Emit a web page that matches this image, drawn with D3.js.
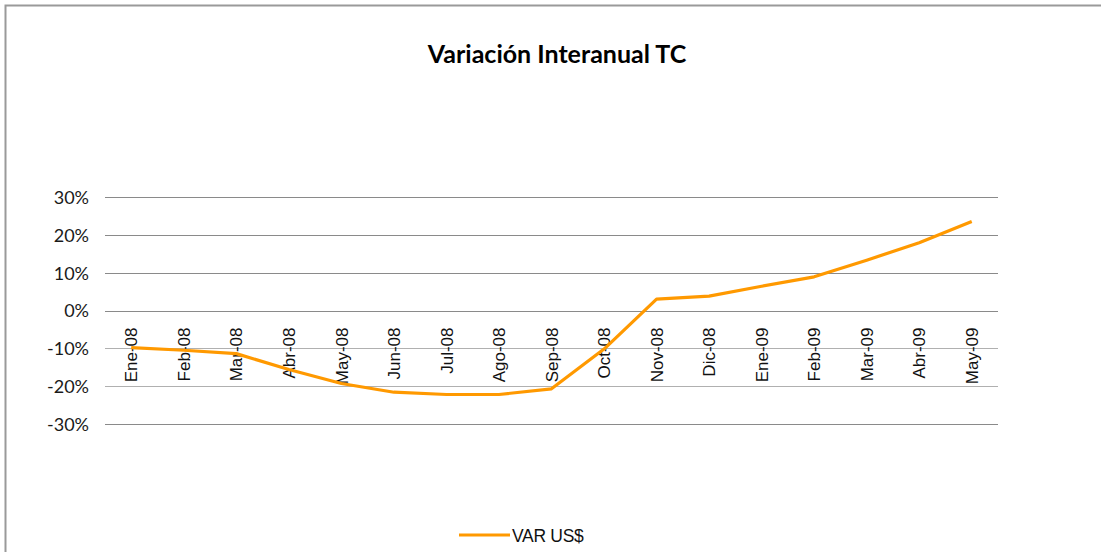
<!DOCTYPE html>
<html>
<head>
<meta charset="utf-8">
<script src="https://cdn.jsdelivr.net/npm/d3@7"></script>
<style>
  html, body { margin: 0; padding: 0; background: #fff; }
  svg { display: block; }
</style>
</head>
<body>
<svg id="chart" width="1101" height="552"></svg>
<script>
const title = "Variación Interanual TC";
const categories = ["Ene-08","Feb-08","Mar-08","Abr-08","May-08","Jun-08","Jul-08","Ago-08","Sep-08","Oct-08","Nov-08","Dic-08","Ene-09","Feb-09","Mar-09","Abr-09","May-09"];
const seriesName = "VAR US$";
const values = [-0.098, -0.105, -0.114, -0.156, -0.193, -0.216, -0.222, -0.222, -0.207, -0.102, 0.030, 0.038, 0.064, 0.089, 0.133, 0.179, 0.235];
const yTicks = [-0.3, -0.2, -0.1, 0, 0.1, 0.2, 0.3];

const svg = d3.select("#chart");
const W = 1101, H = 552;
const plot = {left: 105, right: 998, top: 197, bottom: 424};

// outer border
svg.append("rect")
  .attr("x", 5.5).attr("y", 5.5)
  .attr("width", W + 10).attr("height", H + 10)
  .attr("fill", "none").attr("stroke", "#9a9a9a").attr("stroke-width", 2);

const x = d3.scaleBand().domain(categories).range([plot.left, plot.right]).paddingInner(0).paddingOuter(0);
const y = d3.scaleLinear().domain([-0.3, 0.3]).range([plot.bottom, plot.top]);

// gridlines
svg.append("g").selectAll("line").data(yTicks).join("line")
  .attr("x1", plot.left).attr("x2", plot.right)
  .attr("y1", d => Math.round(y(d)) + 0.5).attr("y2", d => Math.round(y(d)) + 0.5)
  .attr("stroke", d => (d < 0 && d > -0.25) ? "#b0b0b0" : "#8a8a8a")
  .attr("stroke-width", 1);

// y axis labels
const yAxis = d3.axisLeft(y).tickValues(yTicks).tickFormat(d3.format(".0%")).tickSize(0).tickPadding(0);
const gy = svg.append("g").attr("transform", `translate(${plot.left - 16},0)`).call(yAxis);
gy.select(".domain").remove();
gy.selectAll("text")
  .text(d => d3.format(".0%")(d).replace("−", "-"))
  .attr("font-family", "Lato, 'Open Sans', sans-serif")
  .attr("font-size", 18).attr("fill", "#1a1a1a").attr("dy", "0.36em");

// x axis labels (at 0% axis)
const xAxis = d3.axisBottom(x).tickSize(0).tickPadding(0);
const gx = svg.append("g").attr("transform", `translate(0,${y(0)})`).call(xAxis);
gx.select(".domain").remove();
gx.selectAll("text")
  .attr("font-family", "'Liberation Sans', Arial, sans-serif")
  .attr("font-size", 17).attr("fill", "#111")
  .attr("text-anchor", "end")
  .attr("transform", "rotate(-90)")
  .attr("x", -17).attr("y", 0).attr("dy", "0.36em");

// line
const line = d3.line()
  .x((d, i) => x(categories[i]) + x.bandwidth() / 2)
  .y(d => y(d));
svg.append("path")
  .datum(values)
  .attr("d", line)
  .attr("fill", "none")
  .attr("stroke", "#FF9900")
  .attr("stroke-width", 3.2)
  .attr("stroke-linejoin", "round");

// title
svg.append("text")
  .attr("x", 557).attr("y", 63)
  .attr("text-anchor", "middle")
  .attr("font-family", "Lato, 'Open Sans', sans-serif")
  .attr("font-weight", "bold")
  .attr("font-size", 25)
  .attr("fill", "#000")
  .text(title);

// legend
svg.append("line")
  .attr("x1", 459).attr("x2", 510).attr("y1", 535).attr("y2", 535)
  .attr("stroke", "#FF9900").attr("stroke-width", 3.2);
svg.append("text")
  .attr("x", 512).attr("y", 541.5)
  .attr("font-family", "'Liberation Sans', Arial, sans-serif")
  .attr("font-size", 17.5)
  .attr("letter-spacing", -0.3)
  .attr("fill", "#111")
  .text(seriesName);
</script>
</body>
</html>
